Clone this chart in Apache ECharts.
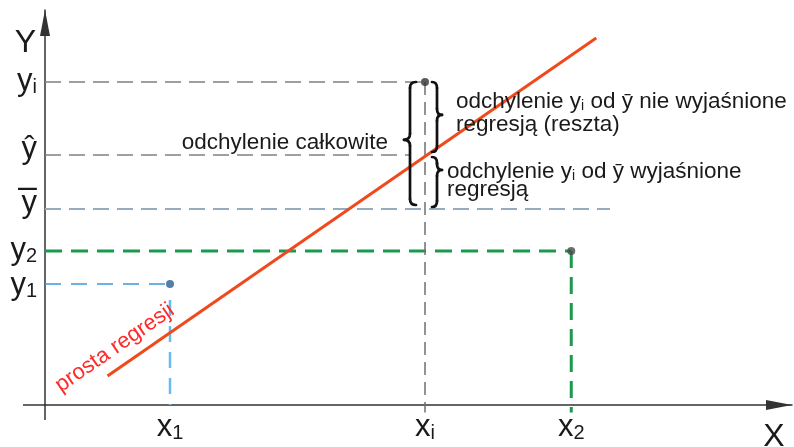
<!DOCTYPE html>
<html><head><meta charset="utf-8">
<script src="https://cdn.jsdelivr.net/npm/echarts@6/dist/echarts.min.js"></script>
<style>html,body{margin:0;padding:0;background:#fff}#c{width:794px;height:447px}</style>
</head><body><div id="c"></div>
<script>
// ---- data (abstract units) ----
const xTickValues = [2.0, 6.08, 8.42];                 // x1, xi, x2
const xTickNames  = ['x', 'x', 'x'];
const xTickSubs   = ['1', 'i', '2'];
const yTickValues = [2.42, 3.08, 3.92, 5.00, 6.46];    // y1, y2, ȳ, ŷ, yi
const yTickNames  = ['y', 'y', 'ȳ', 'ŷ', 'y'];
const yTickSubs   = ['1', '2', '', '', 'i'];
const regressionLine = [[1.0, 0.58], [8.82, 7.34]];
const observedPoints = [[2.0, 2.42], [6.08, 6.46], [8.42, 3.08]];
const yHatGuideEnd = 5.84;
const yBarGuideEnd = 9.04;
const x1GuideTop = 2.1;
const axisTails = [[-0.352, 0, 0, 0], [0, 0, 0, -0.3]];
const axisNames = ['X', 'Y'];
const regressionName = 'prosta regresji';
const annotationTexts = [
  '{t|odchylenie całkowite}',
  '{t|odchylenie y}{s|i}{t| od ȳ nie wyjaśnione}\n{t|regresją (reszta)}',
  '{t|odchylenie y}{s|i}{t| od ȳ wyjaśnione}\n{t|regresją}'
];

const [X1, XI, X2] = xTickValues;
const [Y1, Y2, YBAR, YHAT, YI] = yTickValues;
const FONT = '"Liberation Sans", Arial, Helvetica, sans-serif';
const BELOW = -0.15;
const INK = '#1a1a1a';

function guide(data, color, width, dash, z) {
  return { type: 'line', data, symbol: 'none', silent: true, z: z || 2, clip: false,
    lineStyle: { color, width, type: dash, cap: 'butt' }, animation: false };
}

// label rendering (layout only): vertical nudge in px (+ = down)
const yLabelNudge = [2, 0, 0, -5, 0];
function xLabel(v) {
  const k = xTickValues.findIndex(t => Math.abs(t - v) < 1e-6);
  if (k < 0) return '';
  return '{b|' + xTickNames[k] + '}{s|' + xTickSubs[k] + '}';
}
function yLabel(v) {
  const k = yTickValues.findIndex(t => Math.abs(t - v) < 1e-6);
  if (k < 0) return '';
  const name = yTickNames[k];
  if (name === 'ȳ') return '{bar|–}\n{yb|y}\n{sp18| }';
  let main = '{b|' + name + '}' + (yTickSubs[k] ? '{s|' + yTickSubs[k] + '}' : '');
  const n = yLabelNudge[k];
  if (n > 0) main = '{sp' + (2 * n) + '| }\n' + main;
  if (n < 0) main = main + '\n{sp' + (-2 * n) + '| }';
  return main;
}
const labelRich = {
  b: { fontSize: 31, fontFamily: FONT, color: INK, lineHeight: 30, verticalAlign: 'bottom' },
  s: { fontSize: 20, fontFamily: FONT, color: INK, lineHeight: 12, verticalAlign: 'bottom' },
  bar: { fontSize: 34, fontFamily: FONT, color: INK, lineHeight: 6 },
  yb: { fontSize: 31, fontFamily: FONT, color: INK, lineHeight: 24 }
};
[4, 10, 18].forEach(h => { labelRich['sp' + h] = { fontSize: 4, lineHeight: h }; });

// braces: [x, yLow, yHigh]
const braces = [[XI, YBAR, YI], [XI, YHAT, YI], [XI, YBAR, YHAT]];
const braceStyle = [
  { dx: -15, dir: -1, depth: 6, padTop: 0, padBottom: 4, tip: 0.47 },
  { dx: 12, dir: 1, depth: 5, padTop: 0, padBottom: 3, tip: 0.47 },
  { dx: 12, dir: 1, depth: 5, padTop: 2, padBottom: 2, tip: 0.26 }
];
function renderBrace(params, api) {
  const c = braceStyle[params.dataIndex];
  const top = api.coord([api.value(0), api.value(2)]);
  const bot = api.coord([api.value(0), api.value(1)]);
  const xs = top[0] + c.dx;
  const yT = top[1] + c.padTop, yB = bot[1] - c.padBottom;
  const yM = yT + (yB - yT) * c.tip;
  const d = c.dir * c.depth, r = 6;
  const st = { stroke: '#111', lineWidth: 2.7, fill: null, lineCap: 'round' };
  const q = (x1, y1, cx, cy, x2, y2) => ({ type: 'bezierCurve', shape: { x1, y1, cpx1: cx, cpy1: cy, x2, y2 }, style: st });
  const l = (x1, y1, x2, y2) => ({ type: 'line', shape: { x1, y1, x2, y2 }, style: st });
  return { type: 'group', children: [
    q(xs - d, yT, xs, yT, xs, yT + r),
    l(xs, yT + r, xs, yM - r),
    q(xs, yM - r, xs, yM, xs + d, yM),
    q(xs + d, yM, xs, yM, xs, yM + r),
    l(xs, yM + r, xs, yB - r),
    q(xs, yB - r, xs, yB, xs - d, yB)
  ]};
}

function renderTail(params, api) {
  const a = api.coord([api.value(0), api.value(1)]);
  const b = api.coord([api.value(2), api.value(3)]);
  return { type: 'line', shape: { x1: a[0], y1: a[1], x2: b[0], y2: b[1] }, style: { stroke: '#333', lineWidth: 1.5 } };
}

const annotationAnchors = [[XI, (YBAR + YI) / 2], [XI, (YHAT + YI) / 2], [XI, (YBAR + YHAT) / 2]];
const annotationStyle = [
  { dx: -37, dy: -3, align: 'right', lh: 23 },
  { dx: 31, dy: -5, align: 'left', lh: 23 },
  { dx: 22, dy: 1, align: 'left', lh: 18 }
];
function renderAnnotation(params, api) {
  const c = annotationStyle[params.dataIndex];
  const p = api.coord([api.value(0), api.value(1)]);
  return { type: 'text', x: p[0] + c.dx, y: p[1] + c.dy, style: {
    text: annotationTexts[params.dataIndex], fill: INK, align: c.align, verticalAlign: 'middle',
    fontFamily: FONT, fontSize: 22.5,
    rich: {
      t: { fontSize: 22.5, fontFamily: FONT, lineHeight: c.lh, verticalAlign: 'bottom', fill: INK },
      s: { fontSize: 14, fontFamily: FONT, lineHeight: 10, verticalAlign: 'bottom', fill: INK }
    }
  }};
}

function renderRegressionName(params, api) {
  const a = api.coord([api.value(0), api.value(1)]);
  const b = api.coord([api.value(2), api.value(3)]);
  const len = Math.hypot(b[0] - a[0], b[1] - a[1]);
  const u = [(b[0] - a[0]) / len, (b[1] - a[1]) / len];
  const n = [u[1], -u[0]];
  const along = 22, perp = 19;
  const cx = a[0] + along * u[0] + perp * n[0];
  const cy = a[1] + along * u[1] + perp * n[1];
  return { type: 'text', x: cx, y: cy, rotation: Math.atan2(-(b[1] - a[1]), b[0] - a[0]),
    style: { text: regressionName, fill: '#ff2a2a', fontSize: 22, fontFamily: FONT, align: 'center', verticalAlign: 'middle' } };
}

const axisLineStyle = { color: '#333', width: 1.5 };
const chart = echarts.init(document.getElementById('c'), null, { renderer: 'canvas' });
chart.setOption({
  animation: false,
  backgroundColor: '#fff',
  grid: { left: 45, right: 2, top: 10, bottom: 42, containLabel: false, outerBoundsMode: 'none' },
  xAxis: {
    type: 'value', min: 0, max: 11.952,
    name: axisNames[0], nameLocation: 'end', nameGap: -18,
    nameTextStyle: { fontSize: 32, fontFamily: FONT, color: INK, align: 'center', verticalAlign: 'top', padding: [16, 0, 0, 0] },
    axisLine: { show: true, onZero: false, symbol: ['none', 'triangle'], symbolSize: [10, 26], symbolOffset: [0, -13],
      lineStyle: axisLineStyle },
    axisTick: { show: false }, splitLine: { show: false },
    axisLabel: { customValues: xTickValues, margin: 8, hideOverlap: false, showMinLabel: true, showMaxLabel: true,
      formatter: xLabel, rich: labelRich }
  },
  yAxis: {
    type: 'value', min: 0, max: 7.9,
    name: axisNames[1], nameLocation: 'end', nameGap: -33,
    nameTextStyle: { fontSize: 32, fontFamily: FONT, color: INK, align: 'right', verticalAlign: 'middle', padding: [0, 9, 0, 0] },
    axisLine: { show: true, onZero: false, symbol: ['none', 'triangle'], symbolSize: [10, 26], symbolOffset: [0, -13],
      lineStyle: axisLineStyle },
    axisTick: { show: false }, splitLine: { show: false },
    axisLabel: { customValues: yTickValues, margin: 8, hideOverlap: false, showMinLabel: true, showMaxLabel: true,
      formatter: yLabel, rich: labelRich }
  },
  series: [
    { type: 'custom', z: 1, silent: true, clip: false, data: axisTails, encode: { x: [0, 2], y: [1, 3] }, renderItem: renderTail },
    guide([[0, YI], [XI, YI]], '#808080', 1.6, [16, 8]),
    guide([[0, YHAT], [yHatGuideEnd, YHAT]], '#808080', 1.6, [16, 8]),
    guide([[0, YBAR], [yBarGuideEnd, YBAR]], '#95acc0', 2, [16, 8]),
    guide([[0, Y2], [X2, Y2]], '#1b9a4b', 3, [17, 9]),
    guide([[X2, Y2], [X2, BELOW]], '#1b9a4b', 3, [17, 9]),
    guide([[0, Y1], [X1, Y1]], '#3d96dc', 1.6, [16, 10]),
    guide([[X1, x1GuideTop], [X1, 0]], '#68bbee', 2.5, [16, 10]),
    guide([[XI, YI], [XI, BELOW]], '#707070', 1.5, [13, 7]),
    { type: 'line', data: regressionLine, symbol: 'none', silent: true, z: 3,
      lineStyle: { color: '#ef4a1d', width: 3 } },
    { type: 'custom', z: 4, silent: true, data: braces, encode: { x: 0, y: [1, 2] }, renderItem: renderBrace },
    { type: 'custom', z: 4, silent: true, data: annotationAnchors, encode: { x: 0, y: 1 }, renderItem: renderAnnotation },
    { type: 'custom', z: 4, silent: true, clip: false, data: [regressionLine[0].concat(regressionLine[1])], encode: { x: [0, 2], y: [1, 3] }, renderItem: renderRegressionName },
    { type: 'scatter', z: 5, silent: true, symbolSize: 8,
      data: observedPoints.map((p, i) => ({ value: p, itemStyle: { color: ['#2b5f8e', '#333333', '#4a4a4a'][i] } })) }
  ]
});
</script></body></html>
